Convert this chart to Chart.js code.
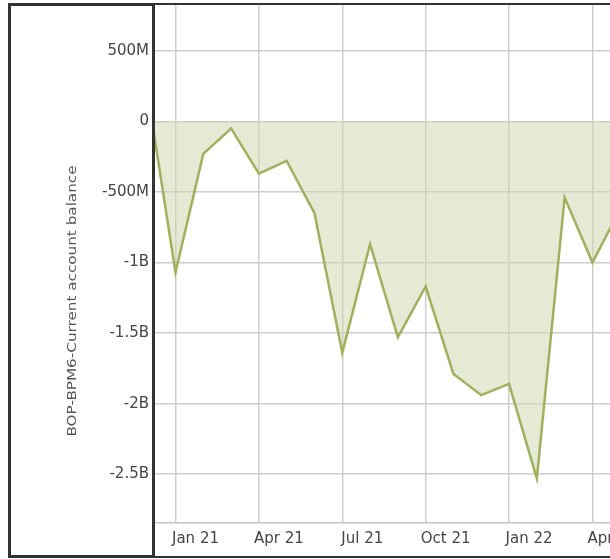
<!DOCTYPE html>
<html>
<head>
<meta charset="utf-8">
<script src="https://cdn.jsdelivr.net/npm/chart.js@4/dist/chart.umd.min.js"></script>
<style>
  html, body { margin: 0; padding: 0; background: #fff; overflow: hidden; }
  #wrap { width: 610px; height: 559px; overflow: hidden; }
</style>
</head>
<body>
<div id="wrap"><canvas id="balChart" width="660" height="559"></canvas></div>
<script>
// monthly points, first one sits just left of the visible range
var months = ["Dec 20", "Jan 21", "Feb 21", "Mar 21", "Apr 21", "May 21", "Jun 21", "Jul 21", "Aug 21",
              "Sep 21", "Oct 21", "Nov 21", "Dec 21", "Jan 22", "Feb 22", "Mar 22", "Apr 22", "May 22"];
var balance = [0.2e9, -1.07e9, -0.23e9, -0.05e9, -0.37e9, -0.28e9, -0.65e9, -1.64e9, -0.87e9,
               -1.53e9, -1.17e9, -1.79e9, -1.94e9, -1.86e9, -2.53e9, -0.54e9, -1.0e9, -0.62e9];
var tickLabels = ["Jan 21", "Apr 21", "Jul 21", "Oct 21", "Jan 22", "Apr 22"];
var yTickValues = [0.5e9, 0, -0.5e9, -1e9, -1.5e9, -2e9, -2.5e9];
var yTickLabels = ["500M", "0", "-500M", "-1B", "-1.5B", "-2B", "-2.5B"];
var axisTitle = "BOP-BPM6-Current account balance";

var points = months.map(function (m, i) { return { x: i - 1, y: balance[i] }; });

var fontFam = "'DejaVu Sans', Verdana, sans-serif";

var framePlugin = {
     id: 'frame',
     afterDraw: function (chart) {
          var ctx = chart.ctx;
          ctx.save();
          // y axis title, a bit stretched like the original
          ctx.translate(73, 301);
          ctx.rotate(-Math.PI / 2);
          ctx.scale(1.17, 1);
          ctx.font = "13px " + fontFam;
          ctx.fillStyle = '#555';
          ctx.textAlign = 'center';
          ctx.textBaseline = 'middle';
          ctx.fillText(axisTitle, 0, 0);
          ctx.restore();

          ctx.save();
          ctx.strokeStyle = '#333';
          ctx.lineWidth = 3;
          ctx.strokeRect(9.5, 4.5, 144, 552);
          ctx.lineWidth = 2;
          ctx.beginPath();
          ctx.moveTo(150, 4); ctx.lineTo(660, 4);
          ctx.moveTo(150, 557); ctx.lineTo(660, 557);
          ctx.stroke();
          ctx.restore();
     }
};

new Chart('balChart', {
     type: 'line',
     data: {
          datasets: [
               {
                    label: axisTitle,
                    data: points,
                    borderColor: '#9fb15f',
                    borderWidth: 2.5,
                    backgroundColor: 'rgba(206, 216, 176, 0.55)',
                    fill: 'origin',
                    tension: 0,
                    pointRadius: 0
               }
          ]
     },
     options: {
          responsive: false,
          animation: false,
          layout: { padding: { left: 0, top: 5, right: 0, bottom: 0 } },
          plugins: {
               legend: { display: false },
               tooltip: { enabled: false }
          },
          scales: {
               x: {
                    type: 'linear',
                    min: -0.737,
                    max: 17.43,
                    afterFit: function (s) { s.height = 36; s.paddingLeft = 0; s.paddingRight = 0; },
                    afterBuildTicks: function (s) {
                         s.ticks = tickLabels.map(function (t, i) { return { value: i * 3 }; });
                    },
                    grid: { color: '#cdcdcd', lineWidth: 1.5, drawTicks: false },
                    border: { color: '#c4c4c4', width: 1.5 },
                    ticks: {
                         autoSkip: false,
                         maxRotation: 0,
                         padding: 7,
                         labelOffset: 20,
                         color: '#454545',
                         font: { family: fontFam, size: 15 },
                         callback: function (v, i) { return tickLabels[i]; }
                    }
               },
               y: {
                    min: -2.846e9,
                    max: 0.825e9,
                    afterFit: function (s) { s.width = 155; s.paddingTop = 0; s.paddingBottom = 0; },
                    afterBuildTicks: function (s) {
                         s.ticks = yTickValues.map(function (v) { return { value: v }; });
                    },
                    grid: { color: '#cdcdcd', lineWidth: 1.5, drawTicks: false },
                    border: { display: false },
                    ticks: {
                         autoSkip: false,
                         padding: 6,
                         color: '#454545',
                         font: { family: fontFam, size: 15 },
                         callback: function (v, i) { return yTickLabels[i]; }
                    }
               }
          }
     },
     plugins: [framePlugin]
});
</script>
</body>
</html>
